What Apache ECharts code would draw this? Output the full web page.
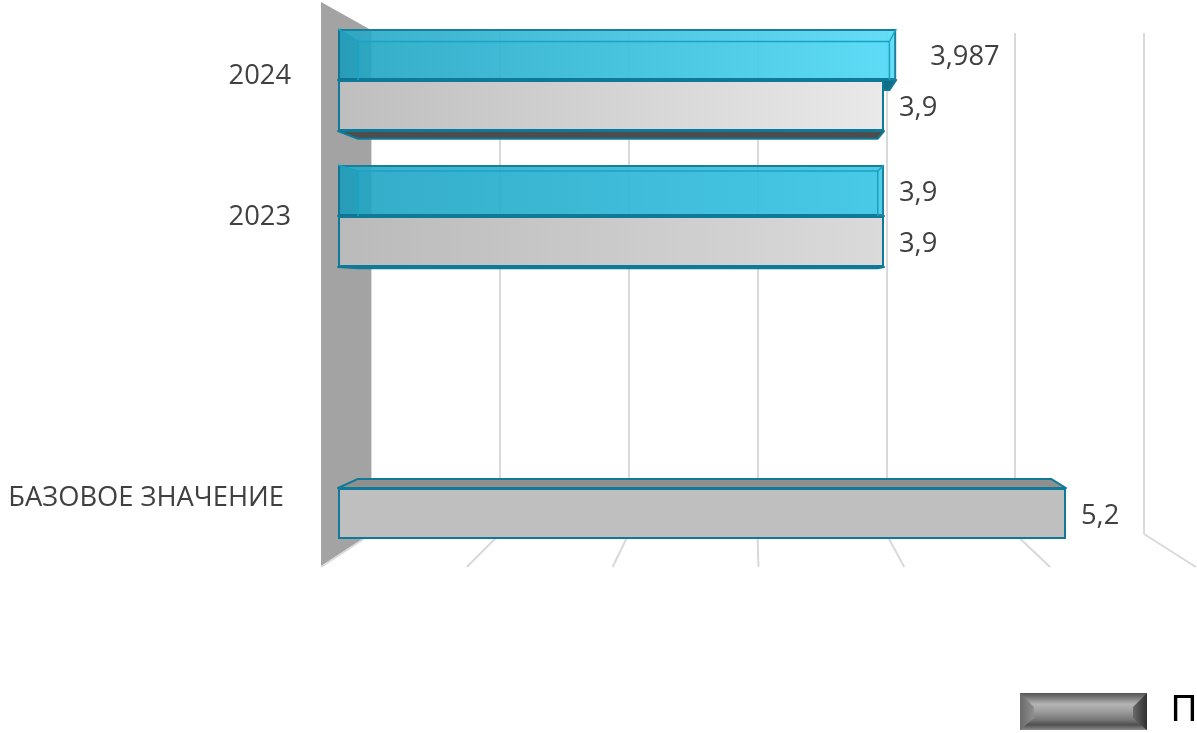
<!DOCTYPE html>
<html><head><meta charset="utf-8">
<style>html,body{margin:0;padding:0;background:#fff;overflow:hidden}#c{width:1197px;height:733px}</style>
<script src="https://cdn.jsdelivr.net/npm/echarts@6/dist/echarts.min.js"></script>
</head><body><div id="c"></div>
<script>
const categories = ['БАЗОВОЕ ЗНАЧЕНИЕ', '', '2023', '2024'];
const planValues = [5.2, null, 3.9, 3.9];
const factValues = [null, null, 3.9, 3.987];
const wallTicks = [0, 1, 2, 3, 4, 5, 6];
const planLeft = ['#bfbfbf', '#bfbfbf', '#bababa', '#bebebe'];
const planRight = ['#bfbfbf', '#bfbfbf', '#dadada', '#e9e9e9'];
const factLeft = ['#1da3c2', '#1da3c2', '#1da3c2', '#1da3c2'];
const factRight = ['#3fc7e6', '#3fc7e6', '#3fc7e6', '#56daf6'];

const FONT = '"Open Sans"';
const FS = 27.3;
const EDGE = '#0f7a97';
const BAR = 51;
const fmt = v => String(v).replace('.', ',');
const grad = (a, b) => ({type:'linear', x:0, y:0, x2:1, y2:0, colorStops:[{offset:0,color:a},{offset:1,color:b}]});
const hexA = (h, a) => h + Math.round(a*255).toString(16).padStart(2,'0');

// perspective of a bar's far face
const backX = x => 358 + 0.952 * (x - 338);
const backY = y => y + 12.5 - 0.047 * (y - 29);

function faces(api, side, lowFill, topFill) {
  const v = api.value(0), cat = api.value(1);
  const r0 = api.coord([0, cat]), r1 = api.coord([v, cat]);
  const l = r0[0], r = r1[0];
  const t = side > 0 ? r0[1] : r0[1] - BAR;
  const b = t + BAR;
  const kids = [];
  const poly = (pts, fill) => kids.push({type:'polygon', shape:{points:pts},
    style:{fill, stroke:EDGE, lineWidth:2, lineJoin:'round'}});
  if (backY(t) < t) poly([[l,t],[r,t],[backX(r),backY(t)],[backX(l),backY(t)]], topFill);
  if (backY(b) > b) poly([[l,b],[r,b],[backX(r),backY(b)],[backX(l),backY(b)]], lowFill);
  return {type:'group', children:kids};
}

function glass(api) {
  const v = api.value(0), cat = api.value(1);
  const r0 = api.coord([0, cat]), r1 = api.coord([v, cat]);
  const l = r0[0], r = r1[0], b = r0[1], t = b - BAR;
  const bl = backX(l), br = backX(r), bt = backY(t);
  const line = '#17a3c4';
  const kids = [
    {type:'polygon', shape:{points:[[l,t],[r,t],[br,bt],[bl,bt]]}, style:{fill:'rgba(255,255,255,0.04)'}},
    {type:'polygon', shape:{points:[[l,t],[bl,bt],[bl,b],[l,b]]}, style:{fill:'rgba(0,60,90,0.05)'}},
    {type:'polygon', shape:{points:[[r,t],[br,bt],[br,b],[r,b]]}, style:{fill:'rgba(255,255,255,0.06)'}}
  ];
  [[l,t,bl,bt],[r,t,br,bt],[bl,bt,br,bt],[bl,bt,bl,b],[br,bt,br,b]].forEach(s => kids.push({
    type:'line', shape:{x1:s[0],y1:s[1],x2:s[2],y2:s[3]}, style:{stroke:line, lineWidth:1.5}}));
  return {type:'group', children:kids};
}

const planData = planValues.map((v,i) => v === null ? null : ({value:v,
  itemStyle:{color:grad(planLeft[i], planRight[i])}}));
const factData = factValues.map((v,i) => v === null ? null : ({value:v,
  itemStyle:{color:grad(hexA(factLeft[i],.9), hexA(factRight[i],.95))},
  label: v === 3.987 ? {distance:34} : undefined}));
const pairs = arr => arr.map((v,i) => v === null ? null : [v,i]).filter(Boolean);

const labelStyle = {show:true, position:'right', distance:15, offset:[0,3], color:'#404040', fontFamily:FONT, fontSize:FS,
  formatter:p => fmt(p.value)};

const chart = echarts.init(document.getElementById('c'), null, {renderer:'canvas'});
chart.setOption({
  animation:false,
  backgroundColor:'#fff',
  legend:{
    left:1020, top:693, itemWidth:127, itemHeight:37, itemGap:23, padding:0, selectedMode:false,
    data:[{name:'План', icon:'rect', itemStyle:{borderWidth:0, color:{type:'linear',x:0,y:0,x2:0,y2:1,colorStops:[
      {offset:0,color:'#555'},{offset:.12,color:'#777'},{offset:.3,color:'#b5b5b5'},{offset:.5,color:'#9c9c9c'},
      {offset:.72,color:'#777'},{offset:.86,color:'#4f4f4f'},{offset:1,color:'#8a8a8a'}]}}}],
    textStyle:{color:'#000', fontFamily:'"Liberation Sans"', fontSize:36, padding:[0,0,0,19]}
  },
  graphic:[
    {type:'polygon', z:100, shape:{points:[[1020,693],[1034,707],[1034,718],[1020,730]]},
     style:{fill:{type:'linear',x:0,y:0,x2:1,y2:0,colorStops:[{offset:0,color:'#6a6a6a'},{offset:1,color:'#8f8f8f'}]}}},
    {type:'polygon', z:100, shape:{points:[[1147,693],[1133,707],[1133,718],[1147,730]]},
     style:{fill:{type:'linear',x:0,y:0,x2:1,y2:0,colorStops:[{offset:0,color:'#6a6a6a'},{offset:1,color:'#2f2f2f'}]}}}
  ],
  grid:[
    {left:338, width:840, top:12, height:544},
    {left:371, width:773, top:33, height:501}
  ],
  xAxis:[
    {gridIndex:0, type:'value', min:0, max:6, interval:1, show:false},
    {gridIndex:1, type:'value', min:0, max:6, interval:1, axisLine:{show:false}, axisTick:{show:false}, axisLabel:{show:false},
     splitLine:{show:true, lineStyle:{color:'#d9d9d9', width:2}}}
  ],
  yAxis:[
    {gridIndex:0, type:'category', data:categories, axisLine:{show:false}, axisTick:{show:false},
     axisLabel:{margin:47, color:'#404040', fontFamily:FONT, fontSize:FS,
       formatter:v => v === '2024' ? '{a|2024}' : v === '2023' ? '{c|2023}' : v ? '{b|'+v+'}' : '',
       rich:{
         a:{fontFamily:FONT, fontSize:FS, color:'#404040', padding:[0,0,8,0]},
         c:{fontFamily:FONT, fontSize:FS, color:'#404040', padding:[2,0,0,0]},
         b:{fontFamily:FONT, fontSize:FS, color:'#404040', padding:[20,7,0,0]}
       }}},
    {gridIndex:1, type:'value', min:0, max:1, show:false}
  ],
  series:[
    {type:'custom', name:'wall', xAxisIndex:1, yAxisIndex:1, z:1, silent:true, clip:false, data:[[0]],
     renderItem:(p,api) => {
       const top = api.coord([0,1]), bot = api.coord([0,0]);
       return {type:'polygon', shape:{points:[[top[0],top[1]-3],[top[0]-50,2],[bot[0]-50,bot[1]+32],[bot[0],bot[1]]]},
         style:{fill:'#a3a3a3'}};
     }},
    {type:'custom', name:'floor', xAxisIndex:1, yAxisIndex:1, z:1, silent:true, clip:false, data:wallTicks.map(v=>[v]),
     renderItem:(p,api) => {
       const a = api.coord([api.value(0),0]);
       return {type:'line', shape:{x1:a[0], y1:a[1], x2:321+(a[0]-371)*146/129, y2:a[1]+33},
         style:{stroke:'#d9d9d9', lineWidth:2}};
     }},
    {type:'custom', name:'factFaces', xAxisIndex:0, yAxisIndex:0, z:2, silent:true, clip:false, data:pairs(factValues),
     renderItem:(p,api) => faces(api, -1, '#0f6f88', '#2fb5d4')},
    {type:'custom', name:'planFaces', xAxisIndex:0, yAxisIndex:0, z:2, silent:true, clip:false, data:pairs(planValues),
     renderItem:(p,api) => faces(api, 1, '#4d4d4d', '#8f8f8f')},
    {type:'bar', name:'Факт', xAxisIndex:0, yAxisIndex:0, z:3, barWidth:BAR, barGap:0, data:factData,
     itemStyle:{borderColor:EDGE, borderWidth:2}, label:labelStyle},
    {type:'bar', name:'План', xAxisIndex:0, yAxisIndex:0, z:3, barWidth:BAR, barGap:0, data:planData,
     itemStyle:{borderColor:EDGE, borderWidth:2}, label:labelStyle},
    {type:'custom', name:'factGlass', xAxisIndex:0, yAxisIndex:0, z:4, silent:true, clip:false, data:pairs(factValues),
     renderItem:(p,api) => glass(api)}
  ]
});
</script></body></html>
